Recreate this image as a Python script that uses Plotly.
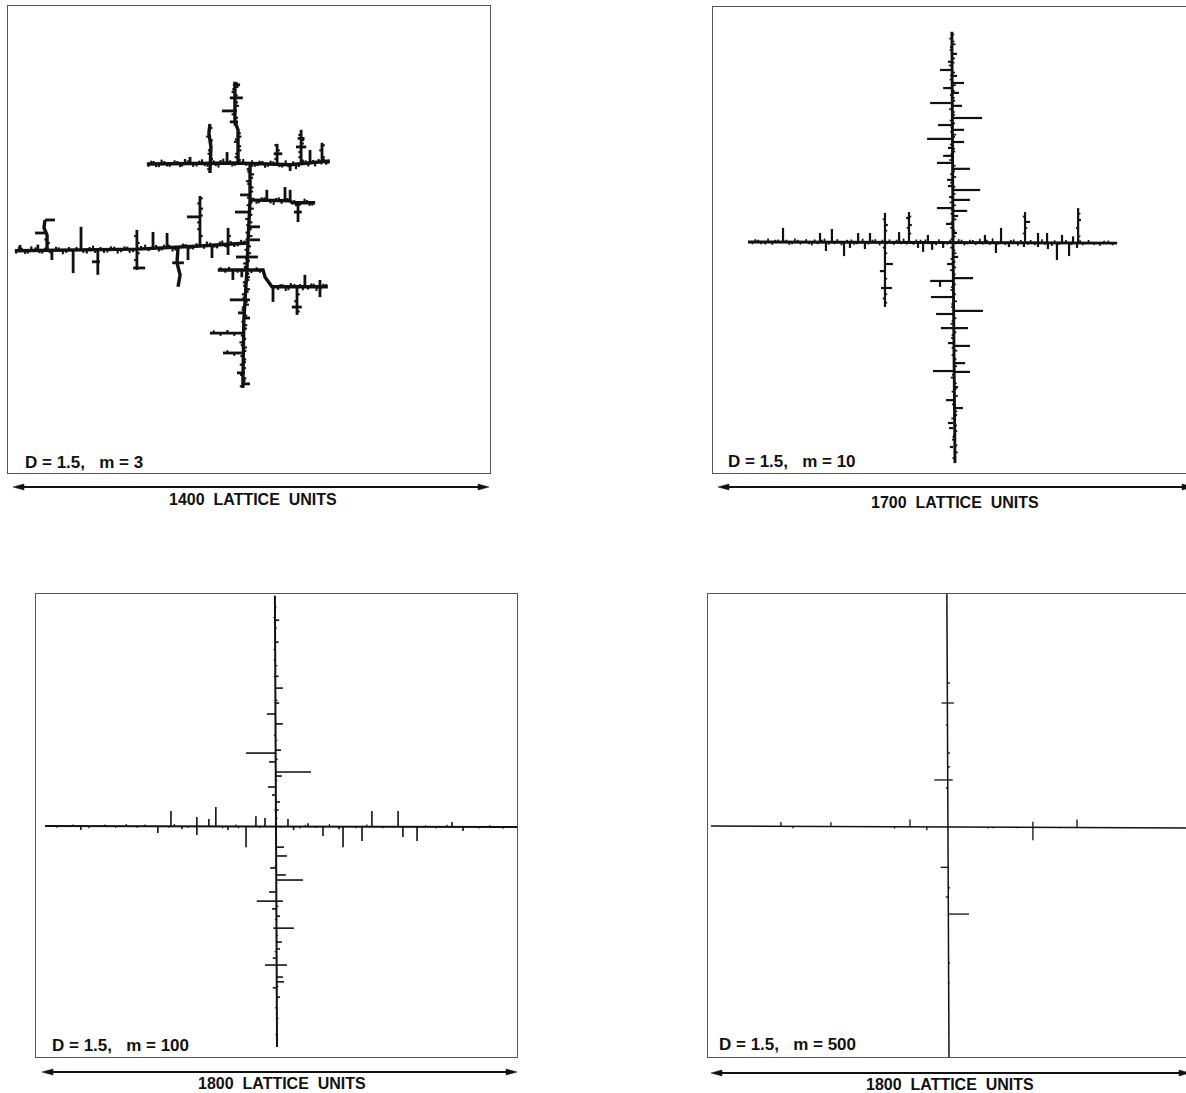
import plotly.graph_objects as go

W, H = 1186, 1093

# ------------------------------------------------------------------
# DATA  (all coordinates in lattice units, origin at the main junction)
# ------------------------------------------------------------------
D_value = 1.5
m_values = [3, 10, 100, 500]
scale_lengths = [1400, 1700, 1800, 1800]

# ---- panel 1 : m = 3 ----
m3_paths = [
    [(-295, 230), (-29, 233), (123, 228), (239, 239)],
    [(6, 233), (6, 125), (0, 0), (-3, -79), (-12, -225), (-15, -423)],
    [(-29, 233), (-29, 330), (-38, 353), (-38, 470)],
    [(-680, -23), (-324, -18), (-140, -9), (0, 0)],
    [(6, 125), (123, 123), (129, 117), (196, 117)],
    [(-88, -79), (44, -79), (50, -100), (70, -128), (233, -128)],
    [(-111, 204), (-108, 280), (-114, 320), (-111, 347)],
    [(-586, -20), (-586, 23), (-595, 44), (-592, 67)],
    [(-204, -12), (-207, -58), (-198, -93), (-204, -128)],
]
m3_vseg = [  # (x, y0, y1)
    (85, 228, 289), (155, 230, 330), (181, 230, 271), (216, 236, 292),
    (-169, 233, 251), (-61, 233, 265), (123, 228, 210),
    (55, 123, 155), (108, 123, 163), (123, 123, 155), (146, 117, 61),
    (-44, -79, -108), (-18, -79, -100), (73, -128, -172), (143, -128, -210),
    (166, -128, -93), (210, -108, -158),
    (-665, -20, -6), (-613, -20, -5), (-572, -23, -50), (-510, -23, -88),
    (-487, -23, 47), (-438, -20, -93), (-324, 38, -79), (-277, -15, 32),
    (-236, -15, 29), (-175, -12, -50), (-140, -9, 137), (-105, -6, -44),
    (-58, 44, -35),
]
m3_hseg = [  # (y, x0, x1)
    (423, -53, -15), (385, -76, -32), (353, -53, -29), (461, -44, -23),
    (140, -23, 6), (90, -38, 6), (47, 6, 35), (9, 6, 35), (-41, -35, 29),
    (-166, -53, 6), (-204, -29, -6), (-219, -15, 6), (-263, -111, -15),
    (-321, -73, -18), (-379, -32, -9), (-411, -15, 6),
    (90, 134, 157), (-187, 128, 157), (67, -592, -563), (29, -621, -586),
    (-55, -455, -432), (-73, -335, -300), (-58, -221, -187), (76, -178, -140),
    (280, 140, 170), (305, 145, 165), (260, 75, 100),
]
m3_vfuzz = [  # (x, y, dy)
    (-290, 230, -8), (-282, 230, 10), (-275, 230, 9), (-268, 230, -9),
    (-260, 231, -10), (-252, 231, 12), (-244, 231, 8), (-236, 231, -8),
    (-228, 231, -9), (-214, 231, 10), (-206, 231, 8), (-198, 231, -10),
    (-192, 231, -8), (-184, 231, 14), (-176, 232, 9), (-160, 232, -10),
    (-150, 232, -9), (-142, 232, 8), (-134, 232, 12), (-126, 232, -8),
    (-118, 232, -10), (-110, 232, 9), (-100, 232, 9), (-94, 232, -8),
    (-86, 232, -12), (-80, 232, 10), (-72, 232, 14), (-52, 233, 8),
    (-46, 233, -10), (-38, 233, -8), (-14, 233, 12), (-5, 233, -8),
    (12, 232, 9), (20, 232, -10), (28, 232, -8), (34, 231, 9), (42, 231, 8),
    (50, 231, -12), (58, 231, -9), (66, 230, 10), (74, 230, 8), (92, 229, -8),
    (100, 229, -9), (110, 229, 12), (118, 229, -8), (132, 229, 9),
    (140, 229, -14), (148, 230, -9), (160, 231, 8), (168, 231, 10),
    (176, 232, -9), (190, 234, 8), (196, 235, -12), (206, 236, 9),
    (214, 237, -8), (222, 237, 9), (228, 238, -10), (234, 239, -8),
    (-676, -23, -8), (-668, -22, 10), (-660, -22, 8), (-650, -22, -10),
    (-642, -22, -9), (-632, -22, 12), (-620, -22, 9), (-608, -22, -8),
    (-600, -22, -9), (-592, -22, 8), (-578, -21, -9), (-560, -21, 10),
    (-552, -21, 8), (-540, -21, -12), (-530, -21, -8), (-522, -21, 9),
    (-500, -21, 9), (-480, -21, -8), (-470, -21, -10), (-462, -20, 8),
    (-452, -20, 12), (-446, -20, -9), (-430, -20, 8), (-420, -20, -9),
    (-410, -20, -8), (-400, -20, 10), (-390, -20, 9), (-380, -19, -12),
    (-370, -19, -8), (-360, -19, 9), (-352, -19, 8), (-345, -19, -10),
    (-335, -18, -9), (-312, -17, 8), (-300, -17, 12), (-290, -16, -8),
    (-268, -15, 9), (-260, -15, -10), (-252, -14, -8), (-245, -14, 9),
    (-230, -13, 8), (-220, -13, -12), (-212, -13, -9), (-190, -12, 10),
    (-182, -11, 8), (-168, -10, -8), (-160, -10, -9), (-150, -9, 8),
    (-128, -8, -9), (-120, -8, 12), (-110, -7, 8), (-98, -6, -8),
    (-90, -6, -10), (-82, -5, 9), (-75, -5, 12), (-66, -4, -8), (-50, -3, 8),
    (-40, -3, -9), (-30, -2, -8), (-20, -1, 10), (-10, -1, 8),
    (15, 124, 8), (25, 124, -10), (32, 124, -8), (40, 124, 9), (48, 124, 9),
    (66, 123, -8), (75, 123, -12), (82, 123, 8), (90, 123, 10), (98, 123, -9),
    (115, 123, 8), (135, 117, 8), (140, 117, -10), (152, 117, -8),
    (165, 117, 12), (172, 117, 8), (180, 117, -9), (188, 117, -8),
    (88, -129, -8), (95, -130, 10), (102, -129, 8), (110, -130, -10),
    (118, -129, -9), (125, -129, 12), (135, -128, 8), (152, -128, 8),
    (160, -128, -10), (175, -128, -8), (185, -128, 10), (192, -128, 9),
    (200, -128, -12), (212, -128, -8), (220, -128, 9), (228, -128, 8),
    (-80, -79, 8), (-66, -79, -8), (-55, -79, 9), (-30, -79, -8),
    (-8, -79, 8), (10, -79, -9), (25, -79, 8), (35, -79, -8),
    (-100, -263, 8), (-80, -263, -8), (-60, -263, 9), (-40, -263, -8),
    (-60, -321, 8), (-40, -321, -8),
]
m3_hfuzz = [  # (x, y, dx)
    (6, 225, 9), (6, 215, -10), (6, 208, -8), (6, 200, 12), (6, 190, 9),
    (6, 180, -12), (6, 172, -8), (6, 162, 10), (6, 150, 9), (6, 132, -9),
    (5, 118, 8), (6, 110, -10), (5, 100, 12), (4, 82, 9), (4, 70, -12),
    (3, 60, 10), (3, 52, -8), (2, 40, 9), (2, 30, -9), (1, 20, 12),
    (1, 10, -8), (0, -10, 9), (0, -20, -10), (-1, -30, 10), (-1, -45, -8),
    (-2, -52, 8), (-2, -60, -12), (-3, -70, -9), (-4, -90, 8), (-4, -100, 10),
    (-5, -108, 9), (-5, -115, -10), (-6, -125, -8), (-6, -135, 12),
    (-7, -142, 9), (-8, -150, -10), (-8, -160, -8), (-9, -172, 8),
    (-9, -180, 12), (-10, -188, -8), (-10, -195, -9), (-11, -212, 9),
    (-11, -230, -8), (-12, -240, 10), (-12, -250, 9), (-12, -270, -9),
    (-13, -280, 8), (-13, -290, -12), (-13, -298, -8), (-13, -305, 10),
    (-14, -315, 9), (-14, -330, -8), (-14, -340, 9), (-14, -348, 8),
    (-14, -355, -10), (-15, -365, 9), (-15, -385, -8), (-15, -395, 10),
    (-15, -402, 8), (-15, -418, -9),
    (-29, 242, 8), (-29, 250, -10), (-29, 260, -8), (-29, 270, 10),
    (-29, 282, 9), (-29, 295, -12), (-29, 302, -9), (-29, 310, 10),
    (-29, 320, 8), (-34, 345, -8), (-38, 365, 9), (-38, 375, -10),
    (-38, 385, -8), (-38, 400, 12), (-38, 410, 9), (-38, 430, 8),
    (-38, 440, -10), (-38, 448, -8), (-38, 455, 10), (-38, 465, 9),
    (-111, 215, -8), (-111, 230, 8), (-110, 245, 8), (-110, 260, -8),
    (-109, 270, -8), (-112, 295, 8), (-112, 300, 9), (-113, 310, -9),
    (-112, 335, 8),
    (155, 240, 8), (155, 250, -8), (155, 265, -8), (155, 290, 8),
    (155, 300, 9), (155, 315, -8),
    (85, 245, -8), (85, 270, 8), (85, 285, -8),
    (216, 250, 8), (216, 270, -8), (216, 285, 8),
    (-586, 0, 8), (-586, 10, -8), (-140, 20, 8), (-140, 40, -8),
    (-140, 60, -8), (-140, 80, 8), (-140, 100, 9), (-140, 115, -8),
    (-140, 130, 8), (-324, 20, -8), (-324, 0, 8), (-324, -30, 8),
    (-324, -50, -8), (-58, 20, 8), (-58, -10, -8),
    (143, -150, 8), (143, -170, -8), (143, -200, 8),
]

# ---- panel 2 : m = 10 ----
m10_paths = [
    [(-726, 0), (581, -4)],
    [(-4, 744), (0, 0), (7, -783)],
]
m10_vseg = [
    (-241, 103, -230),
    (-602, 0, 50), (-471, 0, 32), (-429, 0, 46), (-336, 0, 32), (-294, 0, 32),
    (-191, 0, 35), (-156, 0, 106), (-89, 0, 25), (113, 0, 25), (170, -1, 50),
    (255, -1, 106), (301, -2, 32), (333, -2, 32), (386, -2, 25), (425, -2, 20),
    (443, -2, 120),
    (-450, 0, -32), (-386, 0, -50), (-365, 0, -21), (-312, 0, -25),
    (-124, 0, -21), (-106, 0, -35), (-74, 0, -28), (-35, 0, -21),
    (152, -1, -39), (198, -1, -18), (251, -1, -18), (301, -2, -18),
    (336, -2, -25), (368, -2, -64), (411, -3, -50), (439, -3, -21),
    (-46, -138, -159),
]
m10_hseg = [
    (609, -46, 0), (563, 0, 39), (545, -35, 0), (528, 0, 21), (492, -81, 0),
    (482, 0, 32), (439, 0, 103), (414, -53, 0), (397, 0, 39), (365, -92, 0),
    (354, 0, 39), (305, -35, 0), (280, -57, 0), (259, 0, 60), (220, -21, 0),
    (184, 0, 96), (149, 0, 60), (120, -57, 0), (110, 0, 50), (64, -25, 0),
    (666, 0, 14), (638, -18, 0), (588, 0, 14), (333, -18, 0), (198, -18, 0),
    (159, -14, 0), (92, 0, 18), (32, 0, 14),
    (-53, 0, 18), (-78, -21, 0), (-128, 0, 71), (-138, -81, 0), (-195, -78, 0),
    (-244, 0, 106), (-255, -60, 0), (-305, -43, 53), (-358, -18, 0),
    (-368, 0, 60), (-429, 0, 43), (-457, -71, 0), (-460, 0, 60), (-514, 0, 18),
    (-560, -25, 0), (-588, 0, 35), (-613, 0, 14), (-641, -18, 0),
    (-659, -14, 0), (-684, 0, 11), (-726, -11, 0),
    (-78, -241, -213), (-103, -259, -241), (-163, -255, -216), (60, -241, -231),
    (71, 255, 273), (78, 443, 453), (60, -156, -146), (85, -166, -156),
]
m10_vfuzz = [
    (-710, 0, -8), (-700, 0, 10), (-690, 0, 8), (-680, 0, -8), (-665, 0, -9),
    (-655, 0, 12), (-640, 0, -10), (-630, 0, 8), (-620, 0, 9), (-590, 0, 8),
    (-580, 0, -10), (-570, 0, -8), (-560, 0, 12), (-550, 0, 8), (-540, 0, -9),
    (-520, 0, 10), (-510, 0, -8), (-500, 0, -12), (-490, 0, 9), (-480, 0, -8),
    (-465, 0, 8), (-455, 0, 12), (-440, 0, -10), (-420, 0, -8), (-410, 0, 10),
    (-395, 0, -12), (-375, 0, 8), (-360, 0, 9), (-350, 0, -10), (-340, 0, -8),
    (-320, 0, 12), (-300, 0, -9), (-285, 0, 8), (-275, 0, 10), (-260, 0, -12),
    (-250, 0, 8), (-235, 0, -8), (-225, 0, 9), (-210, 0, -10), (-200, 0, 8),
    (-185, 0, -8), (-175, 0, 12), (-165, 0, -9), (-140, 0, -10), (-130, 0, 9),
    (-115, 0, 8), (-98, 0, 9), (-80, 0, -8), (-60, 0, -12), (-50, 0, 10),
    (-20, 0, -9), (-10, 0, 8), (10, 0, -8), (20, 0, 10), (30, 0, 8),
    (40, 0, -12), (50, 0, -8), (60, -1, 9), (70, -1, 8), (80, -1, -10),
    (95, -1, 12), (105, -1, -8), (120, -1, 9), (130, -1, -9), (140, -1, 14),
    (160, -1, -8), (185, -1, -10), (205, -1, 8), (215, -1, 10), (230, -1, -12),
    (240, -1, 8), (265, -2, -8), (275, -2, 9), (290, -2, -10), (315, -2, 12),
    (325, -2, -8), (350, -2, -12), (360, -2, 8), (375, -2, -8), (400, -3, 10),
    (420, -3, -8), (450, -3, 9), (460, -3, -9), (480, -3, 10), (500, -3, -8),
    (520, -3, -10), (535, -4, 8), (550, -4, 9), (565, -4, -8),
]
m10_hfuzz = [
    (-4, 735, 8), (-3, 720, -10), (-3, 710, 8), (-3, 700, 12), (-3, 690, -8),
    (-3, 680, -9), (-3, 665, 8), (-3, 650, 10), (-3, 635, 8), (-3, 625, -12),
    (-2, 600, 9), (-2, 590, -8), (-2, 575, -10), (-2, 555, 12), (-2, 535, 8),
    (-2, 520, -9), (-2, 510, 8), (-2, 500, 10), (-2, 470, -12), (-2, 460, 8),
    (-2, 450, 9), (-2, 430, -10), (-1, 420, 8), (-1, 405, -8), (-1, 390, -9),
    (-1, 380, 12), (-1, 372, 8), (-1, 345, -10), (-1, 330, 8), (-1, 320, 9),
    (-1, 310, -8), (-1, 290, -12), (-1, 270, 10), (-1, 250, 8), (-1, 240, -9),
    (-1, 230, 12), (0, 210, -10), (0, 195, 8), (0, 170, 9), (0, 160, -8),
    (0, 140, -12), (0, 130, 10), (0, 115, -8), (0, 100, -9), (0, 80, 12),
    (0, 70, -8), (0, 50, -10), (0, 40, 8), (0, 20, 9), (0, 10, -8),
    (0, -20, -10), (0, -30, 8), (0, -40, 12), (0, -60, -9), (1, -70, 8),
    (1, -90, 10), (1, -100, -12), (1, -115, 8), (1, -150, 9), (1, -160, -8),
    (1, -170, -10), (2, -185, 8), (2, -210, 12), (2, -220, -8), (2, -230, -9),
    (2, -270, 10), (3, -280, -8), (3, -290, -12), (3, -320, 9), (3, -330, -8),
    (3, -340, -10), (3, -375, -8), (3, -385, 12), (4, -400, -9), (4, -415, 8),
    (4, -440, 10), (4, -470, -8), (4, -480, -12), (4, -500, 9), (5, -520, 8),
    (5, -530, -10), (5, -545, 12), (5, -575, -9), (5, -600, 10), (6, -625, -12),
    (6, -650, 8), (6, -670, 9), (6, -690, -8), (6, -700, -10), (7, -720, 8),
    (7, -745, 10), (7, -765, -9),
    (-241, 80, -8), (-241, 40, 8), (-241, -20, -8), (-241, -40, 8),
    (-241, -130, 8), (-241, -185, 8), (-241, -200, -8), (-241, -215, 8),
    (-156, 30, 8), (-156, 50, -8), (-156, 90, 8), (255, 30, -8), (255, 50, 8),
    (255, 90, -8), (443, 20, 8), (443, 50, -8), (443, 100, 8),
]

# ---- panel 3 : m = 100 ----
m100_paths = [
    [(-864, 0), (902, -4)],
    [(-4, 861), (0, 0), (4, -827)],
]
m100_hseg = [
    (516, 0, 26), (419, -34, 0), (382, 0, 26), (284, 0, 19), (273, -112, 0),
    (240, -26, 0), (202, 0, 131), (187, 0, 22), (146, -30, 0), (116, -15, 0),
    (90, 0, 15), (60, 0, 10), (-79, 0, 30), (-112, 0, 41), (-157, -22, 0),
    (-183, 0, 37), (-202, 0, 101), (-247, -26, 0), (-281, -72, 26),
    (-310, -15, 0), (-337, 0, 15), (-382, -10, 67), (-434, 0, 22),
    (-460, 0, 15), (-494, -12, 0), (-520, -41, 41), (-565, 0, 26),
    (-583, 0, 30), (-605, -12, 0), (-640, 0, 15),
    (770, 0, 12), (688, 0, 10), (621, -8, 0), (560, 0, 10), (460, 0, 12),
]
m100_vseg = [
    (-393, 0, 56), (-296, 0, 34), (-251, 0, 26), (-225, 0, 71), (-75, 0, 37),
    (-41, 0, 30), (45, 0, 26), (359, -2, 56), (457, -2, 56), (659, -3, 15),
    (120, 0, 10),
    (-730, 0, -15), (-442, 0, -26), (-352, 0, -12), (-296, 0, -34),
    (-112, 0, -79), (-180, 0, -15), (66, 0, -15), (176, -2, -37),
    (236, -2, -12), (251, -2, -79), (322, -2, -56), (475, -3, -41),
    (528, -3, -56), (700, -3, -19),
]
m100_vfuzz = [
    (-820, 0, -6), (-760, 0, 6), (-700, 0, -8), (-640, 0, 6), (-600, 0, -6),
    (-560, 0, 8), (-520, 0, -6), (-490, 0, 6), (-400, 0, -6), (-380, 0, 8),
    (-330, 0, -6), (-200, 0, -8), (-150, 0, 6), (-140, 0, -8), (-60, 0, -6),
    (20, 0, -6), (90, -1, -8), (110, -1, 6), (150, -1, -6), (200, -1, 8),
    (300, -2, -6), (340, -2, 8), (400, -2, -6), (560, -3, 6), (600, -3, -6),
    (640, -3, 8), (760, -3, -6), (800, -3, 6), (850, -4, -6),
]
m100_hfuzz = [
    (-4, 820, 6), (-4, 780, -6), (-3, 740, 6), (-3, 660, -6), (-3, 600, 8),
    (-2, 560, -6), (-2, 470, 8), (-2, 340, -6), (-1, 320, 6), (-1, 250, 8),
    (-1, 170, 6), (0, 60, -6), (0, 30, 6), (1, -150, -6), (1, -300, 8),
    (2, -350, -6), (2, -410, 6), (3, -470, -8), (3, -600, 6), (3, -680, -6),
    (4, -720, 6), (4, -780, -6),
]

# ---- panel 4 : m = 500 ----
m500_paths = [
    [(-887, 4), (0, 0), (891, -4)],
    [(-4, 872), (0, 0), (4, -861)],
]
m500_hseg = [
    (464, -24, 22), (176, -51, 18), (-151, -27, 0), (-326, 0, 79),
    (539, 0, 8), (382, -8, 0), (277, 0, 8), (225, 0, 8), (146, -8, 0),
    (-228, 0, 8), (-262, -8, 0), (-509, 0, 8), (-584, 0, 6),
]
m500_vseg = [
    (-625, 3, 19), (-438, 2, 18), (-142, 1, 28), (-79, 0, -12),
    (318, -2, 20), (318, -2, -50), (483, -3, 28),
    (-580, 3, -5), (-200, 1, -6), (150, -1, -6), (170, -1, -5),
    (260, -2, -5), (420, -3, -5),
]

# ------------------------------------------------------------------
# LAYOUT (pixel geometry of the page)
# ------------------------------------------------------------------
def fx(px):
    return px / W

def fy(py):
    return 1 - py / H

panels = [
    dict(paths=m3_paths, hseg=m3_hseg, vseg=m3_vseg, vfuzz=m3_vfuzz, hfuzz=m3_hfuzz,
         frame=(8, 490, 6, 473), xr=[-700, 706], yr=[-671, 691], lw=3.4, sw=2.8, fw=2.1,
         full=True, lab=(23, 462), arrow=(13, 489, 487), slab=(253, 500)),
    dict(paths=m10_paths, hseg=m10_hseg, vseg=m10_vseg, vfuzz=m10_vfuzz, hfuzz=m10_hfuzz,
         frame=(713, 1186, 7, 473), xr=[-850, 825], yr=[-818, 832], lw=2.9, sw=2.2, fw=1.7,
         full=False, lab=(726, 461), arrow=(718, 1193, 487), slab=(955, 502)),
    dict(paths=m100_paths, hseg=m100_hseg, vseg=m100_vseg, vfuzz=m100_vfuzz, hfuzz=m100_hfuzz,
         frame=(36, 517, 594, 1057), xr=[-898, 902], yr=[-864, 868], lw=2.0, sw=1.6, fw=1.2,
         full=True, lab=(50, 1045), arrow=(42, 517, 1072), slab=(282, 1083)),
    dict(paths=m500_paths, hseg=m500_hseg, vseg=m500_vseg, vfuzz=[], hfuzz=[],
         frame=(708, 1186, 594, 1057), xr=[-898, 891], yr=[-861, 872], lw=1.5, sw=1.3, fw=1.0,
         full=False, lab=(717, 1044), arrow=(711, 1190, 1073), slab=(950, 1084)),
]

fig = go.Figure()
ink = "#111111"
font_fam = "Liberation Sans, Arial, Helvetica, sans-serif"
shapes = []
annotations = []
layout_axes = {}


def add_lines(xs, ys, k, width):
    fig.add_trace(go.Scatter(x=xs, y=ys, mode="lines", xaxis="x" + k, yaxis="y" + k,
                             line=dict(color=ink, width=width), hoverinfo="skip",
                             showlegend=False))


for i, p in enumerate(panels):
    k = "" if i == 0 else str(i + 1)
    # main branches
    px_, py_ = [], []
    for path in p["paths"]:
        for x, y in path:
            px_.append(x); py_.append(y)
        px_.append(None); py_.append(None)
    # side branches
    sx, sy = [], []
    for y, x0, x1 in p["hseg"]:
        sx += [x0, x1, None]; sy += [y, y, None]
    for x, y0, y1 in p["vseg"]:
        sx += [x, x, None]; sy += [y0, y1, None]
    # small fuzz
    fx_, fy_ = [], []
    for x, y, d in p["vfuzz"]:
        fx_ += [x, x, None]; fy_ += [y, y + d, None]
    for x, y, d in p["hfuzz"]:
        fx_ += [x, x + d, None]; fy_ += [y, y, None]

    if fx_:
        add_lines(fx_, fy_, k, p["fw"])
    add_lines(sx, sy, k, p["sw"])
    add_lines(px_, py_, k, p["lw"])

    x0, x1, y0, y1 = p["frame"]
    common = dict(showgrid=False, zeroline=False, showticklabels=False, ticks="",
                  showline=True, linecolor="#555555", linewidth=1, fixedrange=True)
    layout_axes["xaxis" + k] = dict(domain=[fx(x0), fx(x1)], range=p["xr"],
                                    anchor="y" + k, mirror=True, **common)
    layout_axes["yaxis" + k] = dict(domain=[fy(y1), fy(y0)], range=p["yr"],
                                    anchor="x" + k, mirror=p["full"], **common)

    # panel label
    annotations.append(dict(
        text=f"D = {D_value},\u00a0\u00a0 m = {m_values[i]}",
        x=fx(p["lab"][0]), y=fy(p["lab"][1]), xref="paper", yref="paper",
        xanchor="left", yanchor="middle", showarrow=False,
        font=dict(family=font_fam, size=17, color=ink, weight="bold")))
    # scale label
    annotations.append(dict(
        text=f"{scale_lengths[i]}\u00a0\u00a0LATTICE\u00a0\u00a0UNITS",
        x=fx(p["slab"][0]), y=fy(p["slab"][1]), xref="paper", yref="paper",
        xanchor="center", yanchor="middle", showarrow=False,
        font=dict(family=font_fam, size=16, color=ink, weight="bold")))

    # double-headed scale arrow
    ax0, ax1, ay = p["arrow"]
    shapes.append(dict(type="line", xref="paper", yref="paper",
                       x0=fx(ax0 + 6), x1=fx(ax1 - 6), y0=fy(ay), y1=fy(ay),
                       line=dict(color=ink, width=1.8)))
    for tip, back in ((ax0, ax0 + 11), (ax1, ax1 - 11)):
        path = (f"M {fx(tip)},{fy(ay)} L {fx(back)},{fy(ay - 3)} "
                f"L {fx(back)},{fy(ay + 3)} Z")
        shapes.append(dict(type="path", xref="paper", yref="paper", path=path,
                           fillcolor=ink, line=dict(color=ink, width=0.5)))

fig.update_layout(
    width=W, height=H, margin=dict(l=0, r=0, t=0, b=0),
    paper_bgcolor="white", plot_bgcolor="white", showlegend=False,
    shapes=shapes, annotations=annotations, **layout_axes)

fig.write_html("out.html", config={"displayModeBar": False},
               post_script="document.body.style.margin='0';"
                           "document.body.style.padding='0';"
                           "document.body.style.overflow='hidden';")
